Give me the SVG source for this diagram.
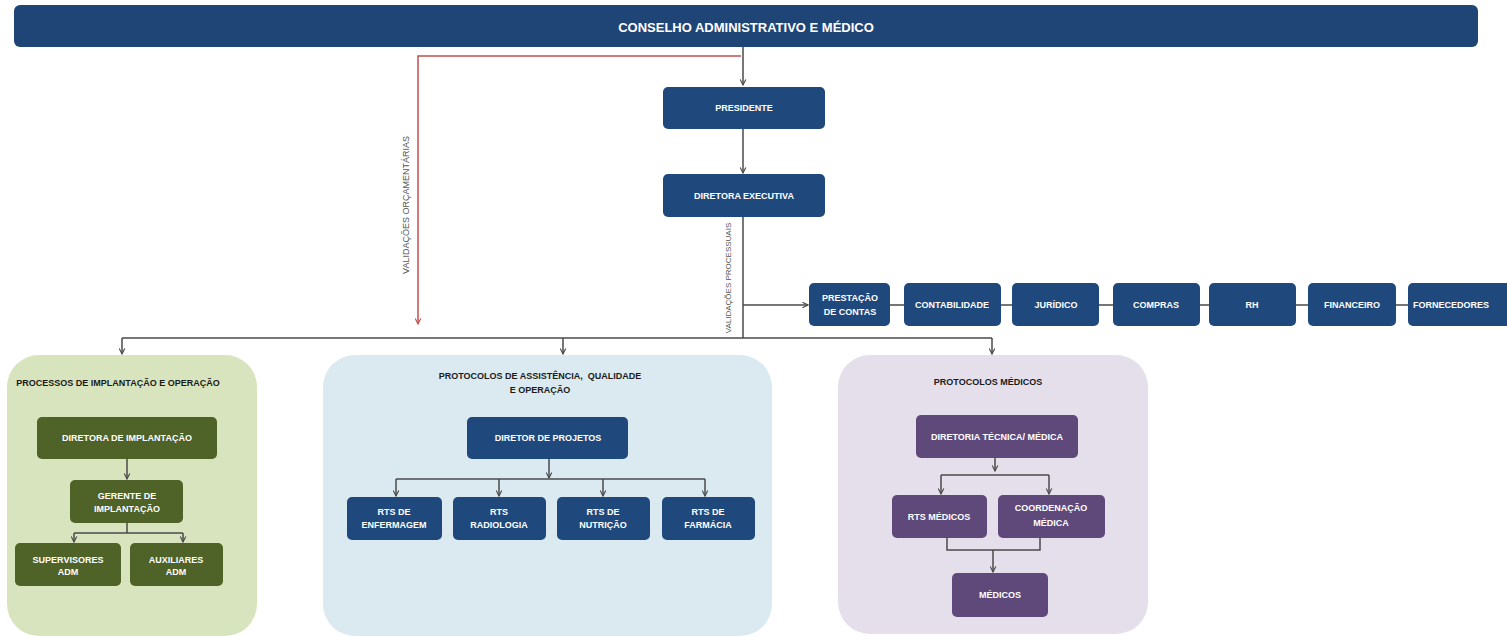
<svg xmlns="http://www.w3.org/2000/svg" width="1507" height="636" viewBox="0 0 1507 636">
<defs>
<style>
.t{font-family:"Liberation Sans",Arial,sans-serif;font-weight:bold;font-size:9px;fill:#ffffff;text-anchor:middle}
.h{font-family:"Liberation Sans",Arial,sans-serif;font-weight:bold;font-size:9px;fill:#1a1a1a;text-anchor:middle}
.v{font-family:"Liberation Sans",Arial,sans-serif;font-size:9px;fill:#555555;text-anchor:middle}
.b{fill:#1f497d}
.g{fill:#4f6228}
.p{fill:#5f497a}
.c{fill:none;stroke:#4a4a4a;stroke-width:1.5}
.r{fill:none;stroke:#c0504d;stroke-width:1.5}
</style>
<marker id="a" viewBox="0 0 10 10" refX="9" refY="5" markerWidth="7" markerHeight="7" orient="auto" markerUnits="userSpaceOnUse">
<path d="M1,1 L9,5 L1,9" fill="none" stroke="#4a4a4a" stroke-width="1.6"/>
</marker>
<marker id="ar" viewBox="0 0 10 10" refX="9" refY="5" markerWidth="7" markerHeight="7" orient="auto" markerUnits="userSpaceOnUse">
<path d="M1,1 L9,5 L1,9" fill="none" stroke="#c0504d" stroke-width="1.6"/>
</marker>
</defs>
<rect width="1507" height="636" fill="#ffffff"/>

<g id="panels">
<rect id="panel-green" x="7" y="355" width="250" height="281" rx="32" fill="#d8e4bd"/>
<rect id="panel-blue" x="323" y="355" width="449" height="281" rx="32" fill="#dbeaf1"/>
<rect id="panel-purple" x="838" y="355" width="310" height="279" rx="32" fill="#e5dfec"/>
<text class="h" x="118" y="386">PROCESSOS DE IMPLANTAÇÃO E OPERAÇÃO</text>
<text class="h" x="540" y="379" xml:space="preserve">PROTOCOLOS DE ASSISTÊNCIA,  QUALIDADE</text>
<text class="h" x="540" y="393">E OPERAÇÃO</text>
<text class="h" x="988" y="385">PROTOCOLOS MÉDICOS</text>
</g>

<g id="connectors">
<path class="c" d="M743,47 V85" marker-end="url(#a)"/>
<path class="r" d="M741,56 H418 V324" marker-end="url(#ar)"/>
<path class="c" d="M743,129 V173" marker-end="url(#a)"/>
<path class="c" d="M743,217 V338"/>
<path class="c" d="M122,338 H992"/>
<path class="c" d="M122,338 V354" marker-end="url(#a)"/>
<path class="c" d="M563,338 V354" marker-end="url(#a)"/>
<path class="c" d="M992,338 V354" marker-end="url(#a)"/>
<path class="c" d="M743,305 H808" marker-end="url(#a)"/>
<path class="c" d="M890,305 H904 M1001,305 H1012 M1099,305 H1113 M1200,305 H1209 M1296,305 H1308 M1396,305 H1408"/>
<path class="c" d="M127,459 V479" marker-end="url(#a)"/>
<path class="c" d="M127,523 V533 M74,533 H183"/>
<path class="c" d="M74,533 V542" marker-end="url(#a)"/>
<path class="c" d="M183,533 V542" marker-end="url(#a)"/>
<path class="c" d="M549,459 V478" marker-end="url(#a)"/>
<path class="c" d="M396,479 H705"/>
<path class="c" d="M396,479 V496" marker-end="url(#a)"/>
<path class="c" d="M499,479 V496" marker-end="url(#a)"/>
<path class="c" d="M603,479 V496" marker-end="url(#a)"/>
<path class="c" d="M705,479 V496" marker-end="url(#a)"/>
<path class="c" d="M995,458 V471" marker-end="url(#a)"/>
<path class="c" d="M941,475 H1049"/>
<path class="c" d="M941,475 V494" marker-end="url(#a)"/>
<path class="c" d="M1049,475 V494" marker-end="url(#a)"/>
<path class="c" d="M947,538 V550 H1040 V538"/>
<path class="c" d="M993,550 V572" marker-end="url(#a)"/>
<text class="v" transform="translate(409,205) rotate(-90)">VALIDAÇÕES ORÇAMENTÁRIAS</text>
<text class="v" style="font-size:8px" transform="translate(731,278) rotate(-90)">VALIDAÇÕES PROCESSUAIS</text>
</g>

<g id="conselho">
<rect x="14" y="5" width="1464" height="42" rx="6" fill="#1f4577"/>
<text class="t" x="746" y="32" style="font-size:13px">CONSELHO ADMINISTRATIVO E MÉDICO</text>
</g>
<g id="presidente">
<rect class="b" x="663" y="87" width="162" height="42" rx="5"/>
<text class="t" x="744" y="111">PRESIDENTE</text>
</g>
<g id="diretora-executiva">
<rect class="b" x="663" y="174" width="162" height="43" rx="5"/>
<text class="t" x="744" y="199">DIRETORA EXECUTIVA</text>
</g>

<g id="prestacao">
<rect class="b" x="809" y="283" width="81" height="43" rx="5"/>
<text class="t" x="850" y="301">PRESTAÇÃO</text>
<text class="t" x="850" y="315">DE CONTAS</text>
</g>
<g id="contabilidade">
<rect class="b" x="904" y="283" width="97" height="43" rx="5"/>
<text class="t" x="952" y="308">CONTABILIDADE</text>
</g>
<g id="juridico">
<rect class="b" x="1012" y="283" width="87" height="43" rx="5"/>
<text class="t" x="1056" y="308">JURÍDICO</text>
</g>
<g id="compras">
<rect class="b" x="1113" y="283" width="87" height="43" rx="5"/>
<text class="t" x="1156" y="308">COMPRAS</text>
</g>
<g id="rh">
<rect class="b" x="1209" y="283" width="87" height="43" rx="5"/>
<text class="t" x="1252" y="308">RH</text>
</g>
<g id="financeiro">
<rect class="b" x="1308" y="283" width="88" height="43" rx="5"/>
<text class="t" x="1352" y="308">FINANCEIRO</text>
</g>
<g id="fornecedores">
<rect class="b" x="1408" y="283" width="110" height="43" rx="5"/>
<text class="t" x="1413" y="308" style="text-anchor:start">FORNECEDORES</text>
</g>

<g id="diretora-implantacao">
<rect class="g" x="37" y="417" width="180" height="42" rx="5"/>
<text class="t" x="127" y="441">DIRETORA DE IMPLANTAÇÃO</text>
</g>
<g id="gerente-implantacao">
<rect class="g" x="70" y="480" width="113" height="43" rx="5"/>
<text class="t" x="127" y="499">GERENTE DE</text>
<text class="t" x="127" y="512">IMPLANTAÇÃO</text>
</g>
<g id="supervisores">
<rect class="g" x="15" y="543" width="106" height="43" rx="5"/>
<text class="t" x="68" y="563">SUPERVISORES</text>
<text class="t" x="68" y="575">ADM</text>
</g>
<g id="auxiliares">
<rect class="g" x="130" y="543" width="93" height="43" rx="5"/>
<text class="t" x="176" y="563">AUXILIARES</text>
<text class="t" x="176" y="575">ADM</text>
</g>

<g id="diretor-projetos">
<rect class="b" x="467" y="417" width="161" height="42" rx="5"/>
<text class="t" x="548" y="441">DIRETOR DE PROJETOS</text>
</g>
<g id="rts-enfermagem">
<rect class="b" x="347" y="497" width="95" height="43" rx="5"/>
<text class="t" x="394" y="515">RTS DE</text>
<text class="t" x="394" y="528">ENFERMAGEM</text>
</g>
<g id="rts-radiologia">
<rect class="b" x="453" y="497" width="93" height="43" rx="5"/>
<text class="t" x="499" y="515">RTS</text>
<text class="t" x="499" y="528">RADIOLOGIA</text>
</g>
<g id="rts-nutricao">
<rect class="b" x="557" y="497" width="93" height="43" rx="5"/>
<text class="t" x="603" y="515">RTS DE</text>
<text class="t" x="603" y="528">NUTRIÇÃO</text>
</g>
<g id="rts-farmacia">
<rect class="b" x="662" y="497" width="93" height="43" rx="5"/>
<text class="t" x="708" y="515">RTS DE</text>
<text class="t" x="708" y="528">FARMÁCIA</text>
</g>

<g id="diretoria-tecnica">
<rect class="p" x="916" y="415" width="162" height="43" rx="5"/>
<text class="t" x="997" y="440">DIRETORIA TÉCNICA/ MÉDICA</text>
</g>
<g id="rts-medicos">
<rect class="p" x="892" y="495" width="95" height="43" rx="5"/>
<text class="t" x="939" y="520">RTS MÉDICOS</text>
</g>
<g id="coordenacao-medica">
<rect class="p" x="998" y="495" width="107" height="43" rx="5"/>
<text class="t" x="1051" y="511">COORDENAÇÃO</text>
<text class="t" x="1051" y="526">MÉDICA</text>
</g>
<g id="medicos">
<rect class="p" x="952" y="573" width="96" height="44" rx="5"/>
<text class="t" x="1000" y="598">MÉDICOS</text>
</g>
</svg>
